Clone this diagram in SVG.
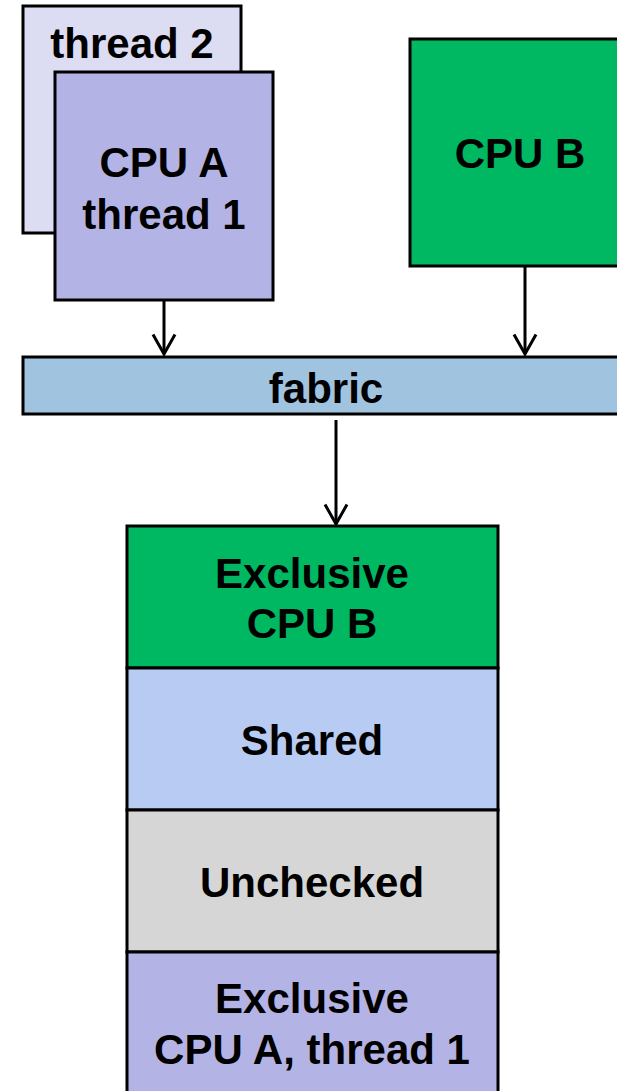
<svg xmlns="http://www.w3.org/2000/svg" width="617" height="1091" viewBox="0 0 617 1091">
  <style>
    .box { stroke: #000; stroke-width: 3; stroke-linejoin: miter; }
    .lbl { font-family: "Liberation Sans", Arial, sans-serif; font-weight: bold; font-size: 42px; fill: #000; text-anchor: middle; }
    .wire { stroke: #000; stroke-width: 3; fill: none; }
  </style>
  <defs>
    <!-- open V arrowhead, tip pointing along +x -->
    <marker id="chev" viewBox="0 0 24 26" refX="21" refY="13" markerWidth="24" markerHeight="26" markerUnits="userSpaceOnUse" orient="auto">
      <path d="M1.5,2 L21,13 L1.5,24" fill="none" stroke="#000" stroke-width="3"/>
    </marker>
  </defs>
  <rect width="617" height="1091" fill="#fff"/>

  <!-- processors -->
  <g id="thread2">
    <rect class="box" x="23" y="6" width="218" height="227" fill="#DCDCF3"/>
    <text class="lbl" x="132" y="58">thread 2</text>
  </g>
  <g id="cpuA">
    <rect class="box" x="55" y="72" width="218" height="228" fill="#B3B3E6"/>
    <text class="lbl" x="164" y="177">CPU A</text>
    <text class="lbl" x="164" y="229">thread 1</text>
  </g>
  <g id="cpuB">
    <rect class="box" x="410" y="39" width="220" height="227" fill="#00B862"/>
    <text class="lbl" x="520" y="168">CPU B</text>
  </g>

  <!-- interconnect -->
  <g id="fabric">
    <rect class="box" x="23" y="357" width="606" height="57" fill="#A0C4E0"/>
    <text class="lbl" x="326" y="403">fabric</text>
  </g>

  <!-- memory states -->
  <g id="exclusiveB">
    <rect class="box" x="127" y="526" width="371" height="142" fill="#00B862"/>
    <text class="lbl" x="312" y="588">Exclusive</text>
    <text class="lbl" x="312" y="638">CPU B</text>
  </g>
  <g id="shared">
    <rect class="box" x="127" y="668" width="371" height="142" fill="#B8CCF3"/>
    <text class="lbl" x="312" y="755">Shared</text>
  </g>
  <g id="unchecked">
    <rect class="box" x="127" y="810" width="371" height="142" fill="#D6D6D6"/>
    <text class="lbl" x="312" y="897">Unchecked</text>
  </g>
  <g id="exclusiveA">
    <rect class="box" x="127" y="952" width="371" height="150" fill="#B3B3E6"/>
    <text class="lbl" x="312" y="1013">Exclusive</text>
    <text class="lbl" x="312" y="1064">CPU A, thread 1</text>
  </g>

  <!-- connectors -->
  <g id="connectors">
    <line class="wire" x1="164" y1="300" x2="164" y2="354" marker-end="url(#chev)"/>
    <line class="wire" x1="525" y1="266" x2="525" y2="354" marker-end="url(#chev)"/>
    <line class="wire" x1="336" y1="420" x2="336" y2="524" marker-end="url(#chev)"/>
  </g>
</svg>
